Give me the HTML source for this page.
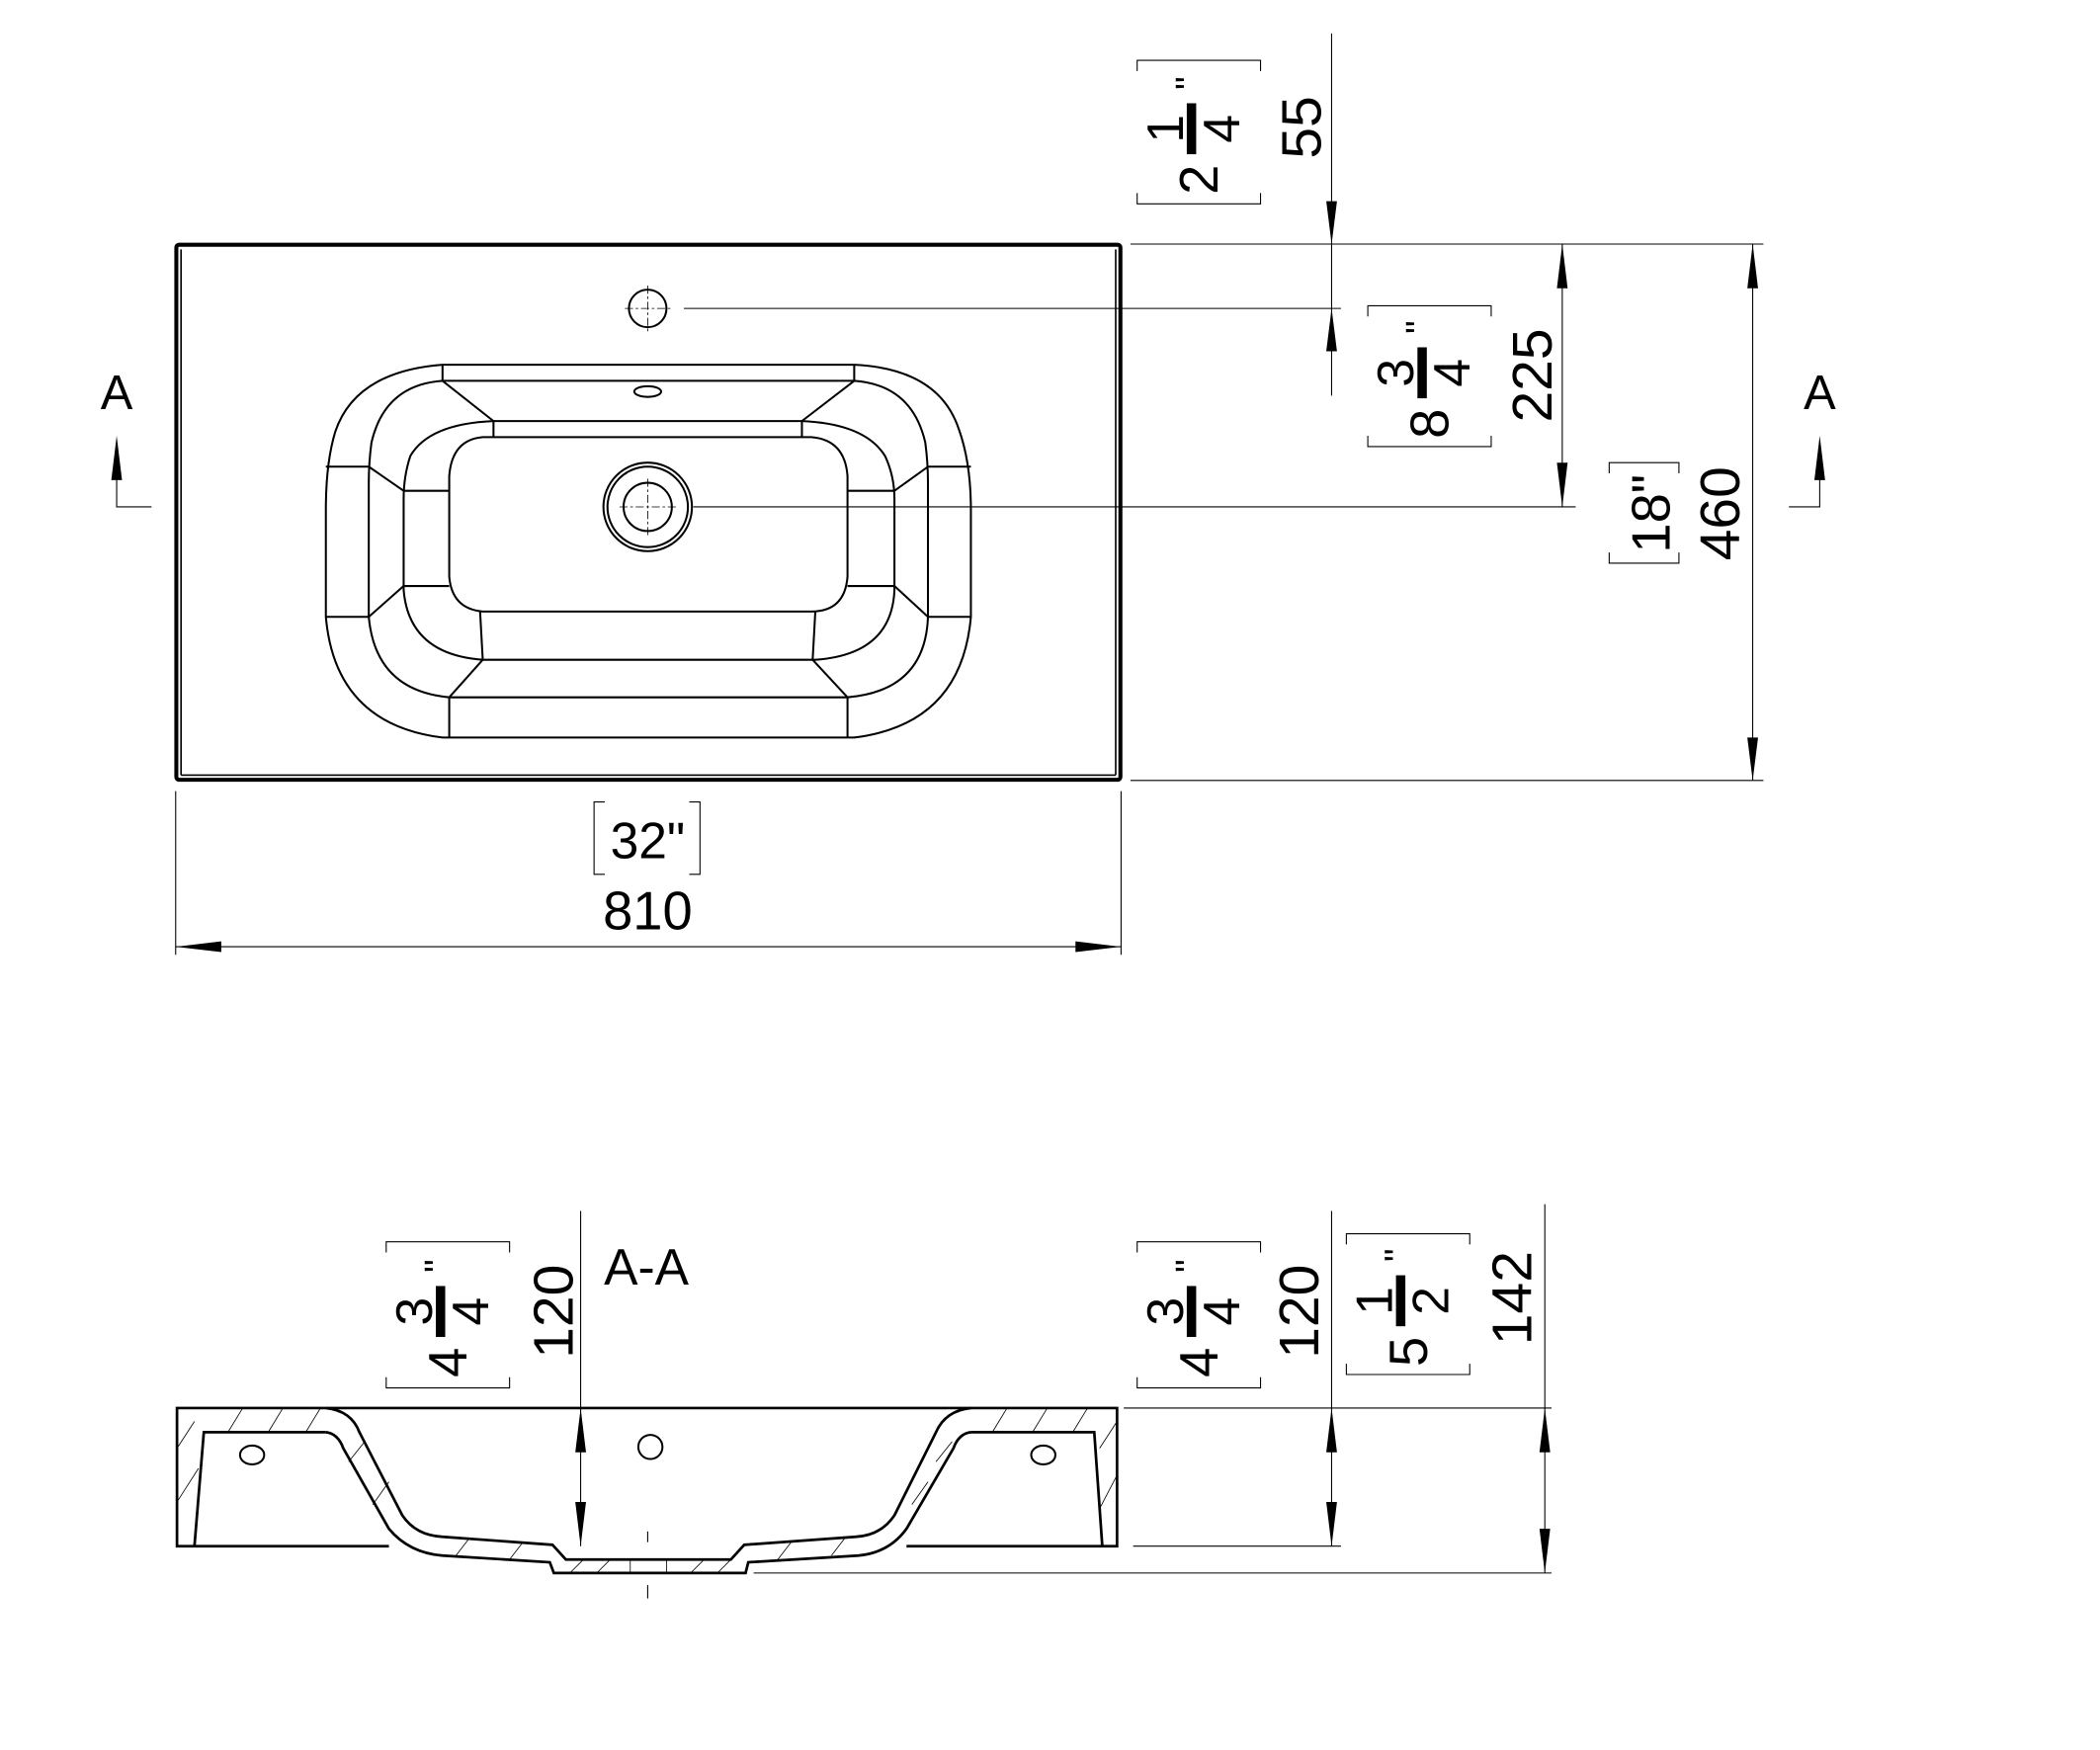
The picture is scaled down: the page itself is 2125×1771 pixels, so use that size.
<!DOCTYPE html>
<html><head><meta charset="utf-8"><style>
html,body{margin:0;padding:0;background:#fff;}
svg{display:block;}
text{font-family:"Liberation Sans",sans-serif;fill:#000;}
</style></head><body>
<svg width="2125" height="1771" viewBox="0 0 1566 1305" preserveAspectRatio="none" xmlns="http://www.w3.org/2000/svg">
<g fill="none" stroke="#000" stroke-width="1">
<rect x="131.5" y="182.5" width="704" height="399" rx="2" stroke-width="3"/>
<line x1="135" y1="186" x2="135" y2="578" stroke-width="1.2"/>
<line x1="832" y1="186" x2="832" y2="578" stroke-width="1.2"/>
<line x1="135" y1="578" x2="832" y2="578" stroke-width="1.2"/>
<circle cx="483" cy="230" r="14" stroke-width="1.5"/>
<line x1="466" y1="230" x2="500" y2="230" stroke-width="0.6" stroke-dasharray="6 2 2 2"/>
<line x1="483" y1="213" x2="483" y2="247" stroke-width="0.6" stroke-dasharray="6 2 2 2"/>
<line x1="510" y1="230" x2="1000" y2="230" stroke-width="0.8"/>
<g stroke-width="1.5">
<path d="M330 272 L637 272 Q700 275 715 320 Q724 345 724 380 L724 460 Q717 540 637 550 L330 550 Q250 540 243 460 L243 380 Q243 345 250 322 Q265 277 330 272 Z"/>
<path d="M330 284 L637 284 Q680 287 690 330 Q692 345 692 360 L692 460 Q690 515 632 520 L335 520 Q280 515 275 460 L275 360 Q275 345 277 330 Q287 287 330 284 Z"/>
<line x1="330" y1="272" x2="330" y2="284"/>
<line x1="637" y1="272" x2="637" y2="284"/>
<line x1="330" y1="284" x2="368" y2="314"/>
<line x1="637" y1="284" x2="598" y2="314"/>
<path d="M368 314 L598 314 Q645 316 660 340 Q667 355 667 372 L667 440 Q665 488 608 492 L360 492 Q305 488 301 440 L301 372 Q301 355 306 340 Q320 316 368 314 Z"/>
<line x1="368" y1="314" x2="368" y2="326"/>
<line x1="598" y1="314" x2="598" y2="326"/>
<path d="M360 326 L605 326 Q630 328 632 355 L632 430 Q630 456 605 456 L360 456 Q337 454 335 430 L335 355 Q337 328 360 326 Z"/>
<line x1="243" y1="348" x2="275" y2="348"/>
<line x1="243" y1="460" x2="275" y2="460"/>
<line x1="692" y1="348" x2="724" y2="348"/>
<line x1="692" y1="460" x2="724" y2="460"/>
<line x1="275" y1="348" x2="301" y2="366"/>
<line x1="275" y1="460" x2="301" y2="437"/>
<line x1="692" y1="348" x2="667" y2="366"/>
<line x1="692" y1="460" x2="667" y2="437"/>
<line x1="301" y1="366" x2="335" y2="366"/>
<line x1="301" y1="437" x2="335" y2="437"/>
<line x1="632" y1="366" x2="667" y2="366"/>
<line x1="632" y1="437" x2="667" y2="437"/>
<line x1="358" y1="456" x2="360" y2="492"/>
<line x1="608" y1="456" x2="606" y2="492"/>
<line x1="360" y1="492" x2="335" y2="520"/>
<line x1="606" y1="492" x2="632" y2="520"/>
<line x1="335" y1="520" x2="335" y2="550"/>
<line x1="632" y1="520" x2="632" y2="550"/>
<ellipse cx="483" cy="292" rx="10" ry="4"/>
<circle cx="483" cy="378" r="33"/>
<circle cx="483" cy="378" r="30"/>
<circle cx="483" cy="378" r="18"/>
</g>
<line x1="462" y1="378" x2="504" y2="378" stroke-width="0.6" stroke-dasharray="6 2 2 2"/>
<line x1="483" y1="357" x2="483" y2="399" stroke-width="0.6" stroke-dasharray="6 2 2 2"/>
<line x1="517" y1="378" x2="1175" y2="378" stroke-width="0.8"/>
<line x1="843" y1="182" x2="1315" y2="182" stroke-width="0.8"/>
<line x1="843" y1="582" x2="1315" y2="582" stroke-width="0.8"/>
<line x1="993" y1="25" x2="993" y2="295" stroke-width="0.8"/>
<line x1="1165" y1="182" x2="1165" y2="378" stroke-width="0.8"/>
<line x1="1307" y1="182" x2="1307" y2="582" stroke-width="0.8"/>
<line x1="131" y1="590" x2="131" y2="712" stroke-width="0.8"/>
<line x1="836" y1="590" x2="836" y2="712" stroke-width="0.8"/>
<line x1="131" y1="706" x2="836" y2="706" stroke-width="0.8"/>
<polyline points="87,355 87,378 113,378" stroke-width="0.8"/>
<polyline points="1357,355 1357,378 1334,378" stroke-width="0.8"/>
<path d="M848 53 V45 H940 V53 M848 144 V152 H940 V144" stroke-width="0.8"/>
<path d="M1020 236 V228 H1112 V236 M1020 325 V333 H1112 V325" stroke-width="0.8"/>
<path d="M1200 353 V345 H1252 V353 M1200 412 V420 H1252 V412" stroke-width="0.8"/>
<path d="M451 598 H443 V652 H451 M514 598 H522 V652 H514" stroke-width="0.8"/>
<path d="M288 934 V926 H380 V934 M288 1027 V1035 H380 V1027" stroke-width="0.8"/>
<path d="M848 934 V926 H940 V934 M848 1027 V1035 H940 V1027" stroke-width="0.8"/>
<path d="M1004 928 V920 H1096 V928 M1004 1017 V1025 H1096 V1017" stroke-width="0.8"/>

<g stroke-width="2">
<path d="M243 1050 L132 1050 L132 1153 L290 1153"/>
<path d="M724 1050 L833 1050 L833 1153 L676 1153"/>
<line x1="243" y1="1050" x2="724" y2="1050"/>
<path d="M243 1050 Q262 1052 268 1068 L300 1130 Q310 1145 330 1146 L412 1152 L422 1163 L545 1163 L555 1152 L638 1146 Q657 1145 667 1130 L698 1068 Q705 1052 724 1050"/>
<path d="M243 1068 Q252 1069 256 1080 L290 1140 Q305 1158 330 1160 L410 1165 L413 1173 L556 1173 L558 1165 L640 1160 Q663 1158 676 1140 L711 1080 Q715 1069 724 1068"/>
<path d="M145 1153 L152 1068 L243 1068"/>
<path d="M822 1153 L816 1068 L724 1068"/>
<ellipse cx="188" cy="1085" rx="9" ry="7" stroke-width="1.5"/>
<ellipse cx="778" cy="1085" rx="9" ry="7" stroke-width="1.5"/>
<ellipse cx="485" cy="1079" rx="9" ry="9" stroke-width="1.5"/>
</g>
<g stroke-width="0.6">
<line x1="470" y1="1163" x2="470" y2="1173"/><line x1="497" y1="1163" x2="497" y2="1173"/>
<line x1="132" y1="1080" x2="145" y2="1060"/><line x1="132" y1="1120" x2="148" y2="1095"/>
<line x1="170" y1="1068" x2="181" y2="1050"/><line x1="200" y1="1068" x2="211" y2="1050"/><line x1="228" y1="1068" x2="239" y2="1050"/>
<line x1="260" y1="1090" x2="272" y2="1075"/><line x1="278" y1="1122" x2="290" y2="1105"/>
<line x1="340" y1="1160" x2="350" y2="1147"/><line x1="380" y1="1163" x2="390" y2="1150"/><line x1="425" y1="1173" x2="435" y2="1163"/><line x1="445" y1="1173" x2="455" y2="1163"/>
<line x1="515" y1="1173" x2="525" y2="1163"/><line x1="535" y1="1173" x2="545" y2="1163"/><line x1="580" y1="1163" x2="590" y2="1150"/><line x1="620" y1="1160" x2="630" y2="1147"/>
<line x1="680" y1="1122" x2="692" y2="1105"/><line x1="698" y1="1090" x2="710" y2="1075"/>
<line x1="740" y1="1068" x2="751" y2="1050"/><line x1="770" y1="1068" x2="781" y2="1050"/><line x1="800" y1="1068" x2="811" y2="1050"/>
<line x1="820" y1="1080" x2="833" y2="1060"/><line x1="820" y1="1125" x2="833" y2="1100"/>
</g>
<line x1="483" y1="1142" x2="483" y2="1150" stroke-width="0.8"/>
<line x1="483" y1="1182" x2="483" y2="1192" stroke-width="0.8"/>
<line x1="433" y1="903" x2="433" y2="1153" stroke-width="0.8"/>
<line x1="993" y1="903" x2="993" y2="1153" stroke-width="0.8"/>
<line x1="1152" y1="898" x2="1152" y2="1173" stroke-width="0.8"/>
<line x1="838" y1="1050" x2="1157" y2="1050" stroke-width="0.8"/>
<line x1="845" y1="1153" x2="1000" y2="1153" stroke-width="0.8"/>
<line x1="562" y1="1173" x2="1157" y2="1173" stroke-width="0.8"/>
</g>

<g fill="#000" stroke="none">
<polygon points="993,182 989,150 997,150"/>
<polygon points="993,230 989,262 997,262"/>
<polygon points="1165,182 1161,215 1169,215"/>
<polygon points="1165,378 1161,345 1169,345"/>
<polygon points="1307,182 1303,215 1311,215"/>
<polygon points="1307,582 1303,550 1311,550"/>
<polygon points="131,706 165,702 165,710"/>
<polygon points="836,706 802,702 802,710"/>
<polygon points="87,325 83,358 91,358"/>
<polygon points="1357,325 1353,358 1361,358"/>
<polygon points="433,1050 429,1083 437,1083"/>
<polygon points="433,1153 429,1120 437,1120"/>
<polygon points="993,1050 989,1083 997,1083"/>
<polygon points="993,1153 989,1120 997,1120"/>
<polygon points="1152,1050 1148,1083 1156,1083"/>
<polygon points="1152,1173 1148,1140 1156,1140"/>
</g>

<text x="87" y="305" font-size="36" text-anchor="middle">A</text>
<text x="1357" y="305" font-size="36" text-anchor="middle">A</text>
<text x="482" y="958" font-size="38" text-anchor="middle">A-A</text>
<text x="483" y="693" font-size="40" text-anchor="middle">810</text>
<text x="483" y="640" font-size="38" text-anchor="middle">32"</text>

<text transform="translate(985,95) rotate(-90)" font-size="42" text-anchor="middle">55</text>
<text transform="translate(1157,280) rotate(-90)" font-size="42" text-anchor="middle">225</text>
<text transform="translate(1297,383) rotate(-90)" font-size="42" text-anchor="middle">460</text>
<text transform="translate(1245,383) rotate(-90)" font-size="40" text-anchor="middle">18"</text>
<text transform="translate(427,978) rotate(-90)" font-size="42" text-anchor="middle">120</text>
<text transform="translate(983,978) rotate(-90)" font-size="42" text-anchor="middle">120</text>
<text transform="translate(1142,968) rotate(-90)" font-size="42" text-anchor="middle">142</text>

<g transform="translate(894,98) rotate(-90)">
<text x="-36" y="14" font-size="40" text-anchor="middle">2</text>
<text x="2" y="-12" font-size="38" text-anchor="middle">1</text>
<rect x="-17" y="-9" width="38" height="7"/>
<text x="2" y="30" font-size="38" text-anchor="middle">4</text>
<text x="36" y="2" font-size="28" text-anchor="middle">"</text>
</g>
<g transform="translate(1066,280) rotate(-90)">
<text x="-36" y="14" font-size="40" text-anchor="middle">8</text>
<text x="2" y="-12" font-size="38" text-anchor="middle">3</text>
<rect x="-17" y="-9" width="38" height="7"/>
<text x="2" y="30" font-size="38" text-anchor="middle">4</text>
<text x="36" y="2" font-size="28" text-anchor="middle">"</text>
</g>
<g transform="translate(334,980) rotate(-90)">
<text x="-36" y="14" font-size="40" text-anchor="middle">4</text>
<text x="2" y="-12" font-size="38" text-anchor="middle">3</text>
<rect x="-17" y="-9" width="38" height="7"/>
<text x="2" y="30" font-size="38" text-anchor="middle">4</text>
<text x="36" y="2" font-size="28" text-anchor="middle">"</text>
</g>
<g transform="translate(894,980) rotate(-90)">
<text x="-36" y="14" font-size="40" text-anchor="middle">4</text>
<text x="2" y="-12" font-size="38" text-anchor="middle">3</text>
<rect x="-17" y="-9" width="38" height="7"/>
<text x="2" y="30" font-size="38" text-anchor="middle">4</text>
<text x="36" y="2" font-size="28" text-anchor="middle">"</text>
</g>
<g transform="translate(1050,972) rotate(-90)">
<text x="-36" y="14" font-size="40" text-anchor="middle">5</text>
<text x="2" y="-12" font-size="38" text-anchor="middle">1</text>
<rect x="-17" y="-9" width="38" height="7"/>
<text x="2" y="30" font-size="38" text-anchor="middle">2</text>
<text x="36" y="2" font-size="28" text-anchor="middle">"</text>
</g>
</svg>
</body></html>
